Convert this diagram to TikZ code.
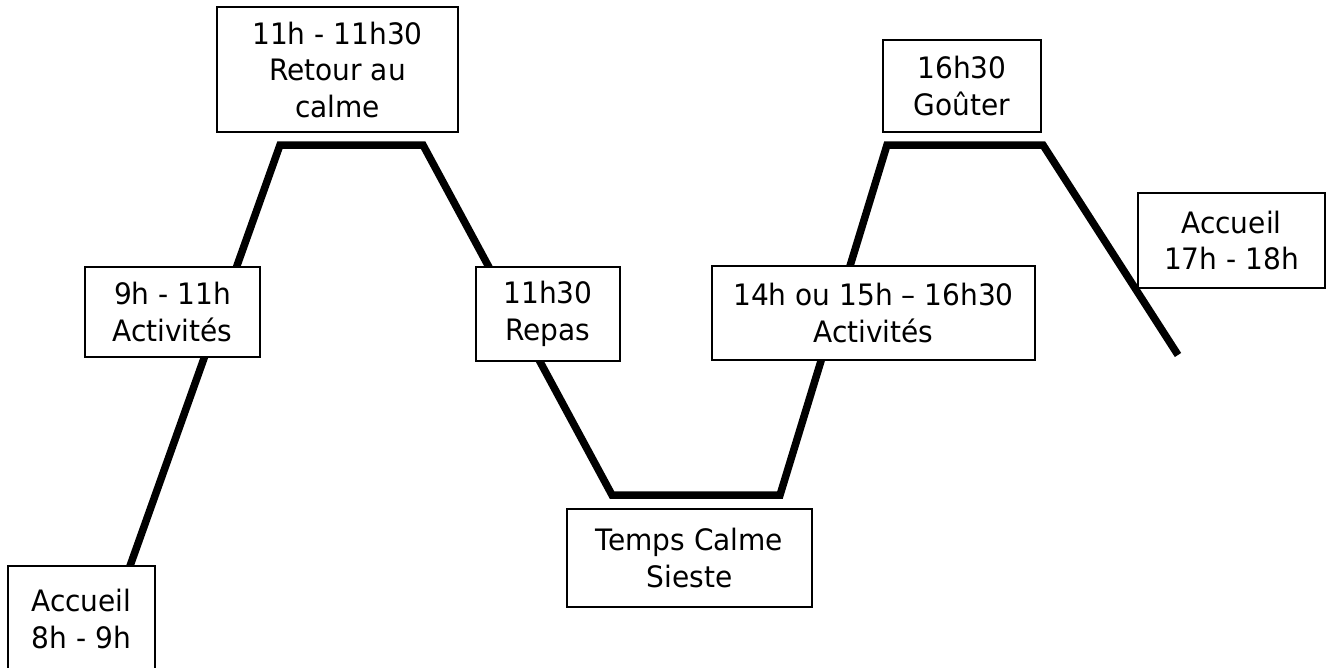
\documentclass[tikz,border=0pt]{standalone}
\usepackage{fontspec}
\setmainfont{DejaVu Sans}[FakeStretch=0.95]
\usetikzlibrary{backgrounds}
\begin{document}
\begin{tikzpicture}[x=1pt,y=-1pt,
  box/.style={draw=black,fill=white,line width=1.5pt,inner sep=0pt,align=center,
    font=\fontsize{29.5}{36.5}\selectfont},
  track/.style={line width=7.5pt,line join=miter,line cap=butt}]
\useasboundingbox (0,0) rectangle (1328,667);
% boxes: given by centre and size
\node[box,minimum width=147pt,minimum height=106pt] (acc1) at (81.5,619) {Accueil\\8h - 9h};
\node[box,minimum width=241pt,minimum height=125pt] (ret) at (337.5,69.5) {11h - 11h30\\Retour au\\calme};
\node[box,minimum width=175pt,minimum height=90pt] (act1) at (172.5,312) {9h - 11h\\Activités};
\node[box,minimum width=144pt,minimum height=94pt] (rep) at (548,314) {11h30\\Repas};
\node[box,minimum width=245pt,minimum height=98pt] (tc) at (689.5,558) {Temps Calme\\Sieste};
\node[box,minimum width=323pt,minimum height=94pt] (act2) at (873.5,313) {14h ou 15h – 16h30\\Activités};
\node[box,minimum width=158pt,minimum height=92pt] (gou) at (962,86) {16h30\\Goûter};
\node[box,minimum width=187pt,minimum height=95pt] (acc2) at (1231.5,240.5) {Accueil\\17h - 18h};
% track coordinates
\coordinate (p0) at (130,566);
\coordinate (p1) at (280,145);
\coordinate (p2) at (423,145);
\coordinate (p3) at (612,495);
\coordinate (p4) at (780,495);
\coordinate (p5) at (887,145);
\coordinate (p6) at (1043,145);
\coordinate (p7) at (1178,355);
\begin{scope}[on background layer]
\draw[track] (p0) -- (p1) -- (p2) -- (p3) -- (p4) -- (p5) -- (p6) -- (p7);
\end{scope}
\end{tikzpicture}
\end{document}
